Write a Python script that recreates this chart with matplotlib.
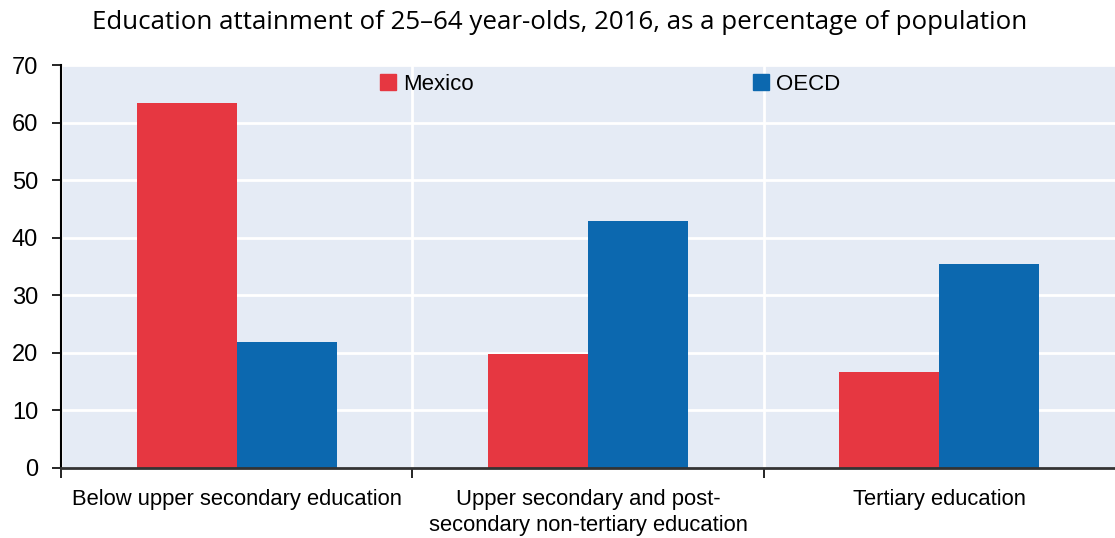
import matplotlib
matplotlib.use('Agg')
import numpy as np
from matplotlib import pyplot as plt
from matplotlib.patches import Patch

# data
categories = ['Below upper secondary education',
              'Upper secondary and post-\nsecondary non-tertiary education',
              'Tertiary education']
mexico = [63.4, 19.8, 16.7]
oecd = [21.9, 42.9, 35.4]
series_names = ['Mexico', 'OECD']

red = '#E63741'
blue = '#0C68AF'
bg = '#E5EBF5'

plt.rcParams['font.family'] = ['Liberation Sans Narrow', 'Liberation Sans', 'DejaVu Sans']

fig = plt.figure(figsize=(11.15, 5.38), dpi=100)
ax = fig.add_axes([61 / 1115, 1 - 468 / 538, 1054 / 1115, 403 / 538])
ax.set_facecolor(bg)

x = np.arange(len(categories))
w = 0.285
ax.bar(x - w / 2, mexico, w, color=red, zorder=3)
ax.bar(x + w / 2, oecd, w, color=blue, zorder=3)

ax.set_xlim(-0.5, 2.5)
ax.set_ylim(0, 70)
ax.set_yticks(range(0, 71, 10))
ax.set_xticks(x)
ax.set_xticklabels(categories, fontsize=15.8, linespacing=1.35)
ax.set_xticks([-0.5, 0.5, 1.5], minor=True)
ax.tick_params(axis='x', which='major', length=0, pad=15)
ax.tick_params(axis='x', which='minor', length=7, width=1.2, direction='out', color='black')
ax.tick_params(axis='y', labelsize=17, length=6.5, width=1.2, direction='out', pad=10)

ax.grid(axis='y', color='white', linewidth=2, zorder=1)
ax.grid(axis='x', which='minor', color='white', linewidth=2, zorder=1)
ax.set_axisbelow(True)

for s in ['top', 'right']:
    ax.spines[s].set_visible(False)
ax.spines['left'].set_linewidth(1.5)
ax.spines['bottom'].set_color('#333333')
ax.spines['bottom'].set_linewidth(2)
ax.spines['bottom'].set_zorder(4)

handles = [Patch(color=red), Patch(color=blue)]
ax.legend(handles, series_names, loc='upper center', bbox_to_anchor=(0.521, 1.0),
          ncol=2, frameon=False, fontsize=16, handlelength=0.7, handleheight=0.7,
          handletextpad=0.3, columnspacing=12.6, borderaxespad=0.0)

fig.text(0.502, 0.959, 'Education attainment of 25\u201364 year-olds, 2016, as a percentage of population',
         ha='center', va='center', fontsize=18.6, family=['Open Sans', 'DejaVu Sans'])

fig.savefig('out.png', dpi=100)
